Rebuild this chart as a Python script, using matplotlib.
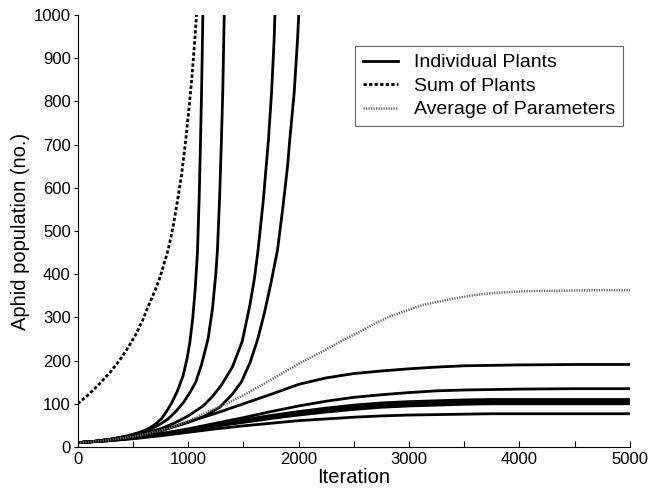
import matplotlib
matplotlib.use('Agg')
import matplotlib.pyplot as plt

plt.rcParams['font.family'] = ['Liberation Sans', 'DejaVu Sans']

# 各植株 (Individual Plants) - 六条趋于平稳
iter_flat = [0, 250, 500, 750, 1000, 1250, 1500, 1750, 2000, 2250, 2500, 2750, 3000,
             3250, 3500, 3750, 4000, 4500, 5000]
plant_p1 = [10, 15, 24, 37, 58, 78, 100, 122, 145, 160, 170, 176, 181, 185, 188, 189, 190, 191, 191]
plant_p2 = [10, 15, 22, 31, 42, 55, 68, 82, 95, 106, 115, 121, 126, 130, 132, 133, 134, 135, 135]
plant_p3 = [10, 15, 21, 30, 40, 52, 63, 73, 82, 90, 97, 102, 105, 107, 109, 110, 110, 110, 110]
plant_p4 = [10, 14, 21, 29, 39, 50, 60, 70, 78, 85, 92, 97, 100, 102, 104, 105, 105, 105, 105]
plant_p5 = [10, 14, 20, 28, 38, 48, 57, 66, 74, 81, 87, 92, 95, 97, 99, 100, 100, 100, 100]
plant_p6 = [10, 14, 19, 26, 34, 42, 49, 55, 61, 65, 69, 72, 74, 75, 76, 77, 77, 77, 77]

# 四条指数增长的植株
e1_x = [0, 150, 300, 450, 550, 622, 700, 760, 803, 850, 900, 954, 990, 1014, 1040, 1062,
        1084, 1100, 1111, 1121, 1129, 1134]
e1_y = [10, 13, 18, 26, 33, 40, 52, 66, 82, 102, 128, 165, 205, 240, 295, 360,
        450, 580, 700, 820, 940, 1020]
e2_x = [0, 150, 300, 450, 560, 682, 760, 818, 894, 960, 1020, 1068, 1120, 1180, 1220, 1250,
        1265, 1285, 1301, 1313, 1322, 1328]
e2_y = [10, 13, 18, 25, 33, 44, 55, 65, 84, 104, 128, 150, 190, 250, 320, 400,
        456, 580, 711, 820, 940, 1020]
e3_x = [0, 150, 300, 450, 600, 750, 880, 1000, 1135, 1220, 1300, 1400, 1490, 1560, 1600,
        1633, 1680, 1710, 1727, 1755, 1778, 1788]
e3_y = [10, 13, 18, 24, 32, 42, 56, 72, 95, 117, 143, 185, 245, 330, 390,
        456, 570, 660, 711, 820, 940, 1020]
e4_x = [0, 150, 300, 450, 600, 750, 900, 1000, 1150, 1286, 1400, 1480, 1560, 1630, 1690,
        1750, 1809, 1860, 1900, 1920, 1960, 1990, 2003]
e4_y = [10, 13, 18, 24, 31, 39, 49, 57, 72, 92, 122, 150, 195, 250, 310,
        380, 456, 560, 650, 711, 820, 942, 1010]

# 植株之和 (Sum of Plants)
sum_x = [0, 100, 199, 290, 380, 460, 531, 590, 637, 680, 713, 745, 773, 800, 818, 860,
         900, 940, 978, 1010, 1035, 1060, 1078]
sum_y = [100, 122, 147, 172, 201, 232, 263, 295, 325, 350, 371, 393, 417, 440, 456, 505,
         565, 630, 711, 790, 860, 942, 1010]

# 参数平均 (Average of Parameters)
avg_x = [0, 250, 500, 750, 900, 1000, 1166, 1300, 1450, 1588, 1800, 2011, 2222, 2400, 2524,
         2700, 2826, 3000, 3128, 3370, 3600, 3792, 4100, 4396, 4700, 5000]
avg_y = [10, 15, 24, 38, 50, 60, 80, 95, 113, 132, 163, 194, 222, 247, 263,
         287, 302, 318, 329, 342, 352, 357, 361, 362, 363, 363]

fig = plt.figure(figsize=(6.48, 4.98), dpi=100)
ax = fig.add_axes([0.120, 0.1024, 0.852, 0.8675])

lw_plant = 2.0
ax.plot(e1_x, e1_y, color='black', lw=lw_plant, label='Individual Plants')
for xs, ys in [(e2_x, e2_y), (e3_x, e3_y), (e4_x, e4_y)]:
    ax.plot(xs, ys, color='black', lw=lw_plant)
for ys in [plant_p1, plant_p2, plant_p3, plant_p4, plant_p5, plant_p6]:
    ax.plot(iter_flat, ys, color='black', lw=lw_plant)

ax.plot(sum_x, sum_y, color='black', lw=2.0, linestyle=(0, (1.2, 0.8)), label='Sum of Plants')
ax.plot(avg_x, avg_y, color='0.4', lw=1.8, linestyle=(0, (0.5, 0.5)), label='Average of Parameters')

ax.set_xlim(0, 5000)
ax.set_ylim(0, 1000)
ax.set_xticks(range(0, 5001, 500))
ax.set_xticklabels([str(v) if v % 1000 == 0 else '' for v in range(0, 5001, 500)])
ax.set_yticks(range(0, 1001, 100))
ax.tick_params(axis='x', direction='in', length=4, labelsize=12)
ax.tick_params(axis='y', direction='out', length=3, labelsize=12, pad=2)
ax.spines['top'].set_visible(False)
ax.spines['right'].set_visible(False)

ax.set_xlabel('Iteration', fontsize=14.5, labelpad=1)
ax.set_ylabel('Aphid population (no.)', fontsize=14.5, labelpad=3)

leg = ax.legend(loc='upper right', bbox_to_anchor=(0.987, 0.928), borderaxespad=0,
                fontsize=14, handlelength=1.8, labelspacing=0.3, fancybox=False,
                framealpha=1, edgecolor='0.4')
leg.get_frame().set_linewidth(0.8)

fig.savefig('out.png', dpi=100)
plt.close()
